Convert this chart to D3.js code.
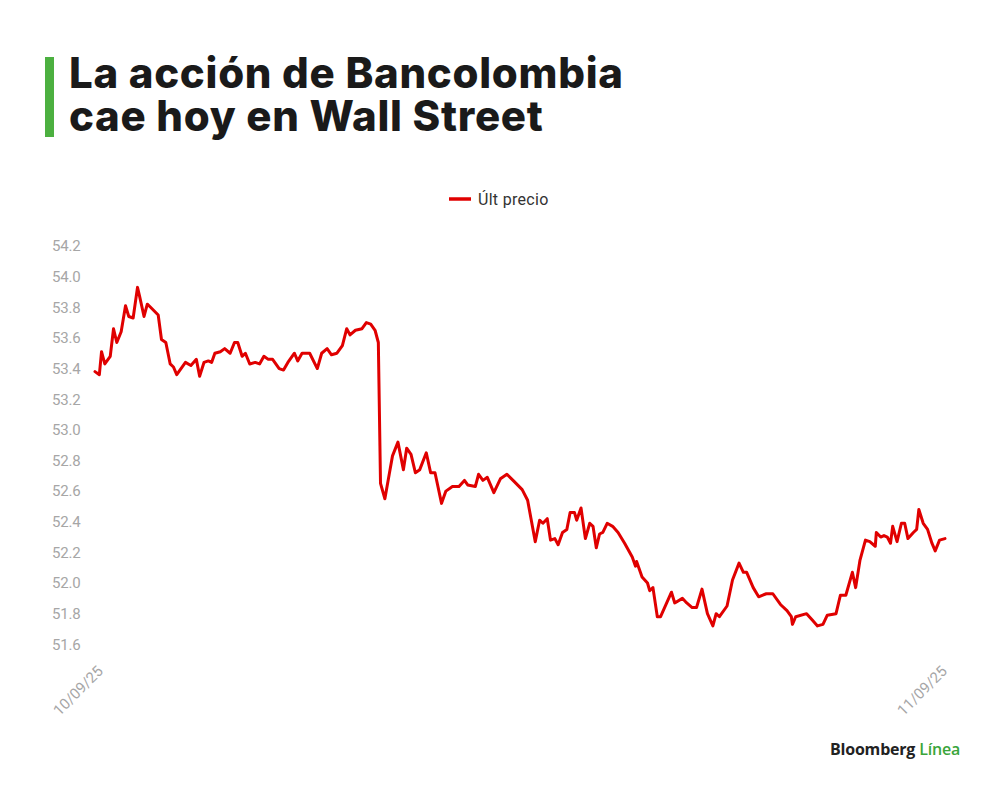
<!DOCTYPE html>
<html>
<head>
<meta charset="utf-8">
<script src="https://cdn.jsdelivr.net/npm/d3@7"></script>
<style>
  html, body { margin: 0; padding: 0; background: #fff; }
  #wrap { position: relative; width: 1000px; height: 790px; }
  svg { display: block; position: absolute; left: 0; top: 0; }
  #title { position: absolute; left: 69px; top: 51px; font-family: Inter, 'Liberation Sans', Arial, sans-serif;
    font-weight: 800; font-size: 42px; line-height: 43px; color: #1a1a1a; white-space: nowrap; }
  #measure { position: absolute; visibility: hidden; font-family: Inter, 'Liberation Sans', Arial, sans-serif;
    font-weight: 800; font-size: 42px; white-space: nowrap; }
</style>
</head>
<body>
<div id="wrap">
<svg id="chart" width="1000" height="790"></svg>
<div id="title"></div>
</div>
<script>
// ---- data ----
const titleLines = ["La acción de Bancolombia", "cae hoy en Wall Street"];
const seriesName = "Últ precio";
const dateLabels = ["10/09/25", "11/09/25"];
const yTicks = [51.6, 51.8, 52.0, 52.2, 52.4, 52.6, 52.8, 53.0, 53.2, 53.4, 53.6, 53.8, 54.0, 54.2];
// minutes elapsed since the start of the period shown
const minutes = [0,4,6,9,14,17,20,24,28,31,35,39,41,45,48,51,58,61,65,69,72,75,83,88,93,96,100,104,107,110,115,119,124,128,131,135,138,142,147,151,155,159,163,169,173,177,183,186,190,197,204,208,213,217,222,227,231,234,239,245,249,253,257,260,
  262,266,270,273,278,283,286,290,294,298,304,308,312,318,322,328,334,339,342,349,352,356,360,366,372,378,385,392,397,404,408,411,415,418,422,425,429,433,436,440,442,446,450,454,457,460,463,466,470,475,480,486,493,496,497,502,507,509,512,516,519,524,529,532,539,543,548,552,557,562,567,570,573,580,585,591,595,598,604,609,616,622,629,635,639,640,643,653,658,663,668,672,680,684,689,695,698,702,707,711,716,717,721,724,727,730,732,736,740,743,746,751,754,756,760,764,768,771,775,780];
const prices = [53.38,53.36,53.51,53.43,53.48,53.66,53.57,53.64,53.81,53.74,53.73,53.93,53.87,53.74,53.82,53.80,53.75,53.59,53.57,53.43,53.41,53.36,53.44,53.42,53.46,53.35,53.44,53.45,53.44,53.50,53.51,53.53,53.50,53.57,53.57,53.48,53.50,53.43,53.44,53.43,53.48,53.46,53.46,53.40,53.39,53.44,53.50,53.45,53.50,53.50,53.40,53.50,53.53,53.49,53.50,53.55,53.66,53.62,53.65,53.66,53.70,53.69,53.65,53.57,
  52.65,52.55,52.71,52.83,52.92,52.74,52.88,52.84,52.72,52.74,52.85,52.72,52.72,52.52,52.60,52.63,52.63,52.67,52.64,52.63,52.71,52.67,52.69,52.59,52.68,52.71,52.66,52.61,52.54,52.27,52.41,52.39,52.42,52.28,52.29,52.25,52.33,52.35,52.46,52.46,52.41,52.49,52.29,52.39,52.37,52.23,52.32,52.33,52.39,52.37,52.33,52.26,52.17,52.11,52.14,52.04,52.00,51.95,51.97,51.78,51.78,51.86,51.94,51.87,51.90,51.87,51.84,51.84,51.96,51.80,51.72,51.80,51.78,51.85,52.02,52.13,52.07,52.07,51.97,51.91,51.93,51.93,51.86,51.82,51.78,51.73,51.78,51.80,51.76,51.72,51.73,51.79,51.80,51.92,51.92,52.07,51.97,52.15,52.28,52.27,52.24,52.33,52.30,52.31,52.30,52.26,52.37,52.27,52.39,52.39,52.29,52.33,52.35,52.48,52.39,52.35,52.26,52.21,52.28,52.29];
const footer = ["Bloomberg", "Línea"];

// ---- drawing ----
const svg = d3.select("#chart");
const RED = "#e00000", GREEN = "#4cb040", LABEL = "#a6a6a6";

// title: one text block, two lines, shared letter-spacing fitted to the reference widths
svg.append("rect").attr("x", 45).attr("y", 57).attr("width", 9).attr("height", 80).attr("fill", GREEN);
const titleWidths = [557, 471];
const meas = d3.select("body").append("span").attr("id", "measure");
let lsSum = 0;
titleLines.forEach((t, i) => {
  meas.text(t);
  const w = meas.node().getBoundingClientRect().width;
  lsSum += (titleWidths[i] - w) / (t.length - 1);
});
meas.remove();
const titleDiv = d3.select("#title").style("letter-spacing", (lsSum / titleLines.length).toFixed(2) + "px");
titleLines.forEach((t, i) => {
  if (i) titleDiv.append("br");
  titleDiv.node().appendChild(document.createTextNode(t));
});

// legend
const legend = svg.append("g");
legend.append("line").attr("x1", 449).attr("x2", 471).attr("y1", 199).attr("y2", 199)
  .attr("stroke", RED).attr("stroke-width", 3.5);
legend.append("text").attr("x", 478).attr("y", 204.5).text(seriesName)
  .attr("font-family", "Roboto, 'Liberation Sans', sans-serif").attr("font-size", 16)
  .attr("fill", "#333").attr("letter-spacing", 0.3);

// scales
const x = d3.scaleLinear().domain([0, 780]).range([95, 945]);
const y = d3.scaleLinear().domain([51.6, 54.2]).range([644.3, 246]);

// y axis
const yAxis = svg.append("g").attr("transform", "translate(52,0)")
  .call(d3.axisLeft(y).tickValues(yTicks).tickFormat(d3.format(".1f")).tickSize(0));
yAxis.select(".domain").remove();
yAxis.selectAll("text").attr("text-anchor", "start").attr("x", 0)
  .attr("font-family", "Roboto, 'Liberation Sans', sans-serif").attr("font-size", 15)
  .attr("fill", LABEL).attr("letter-spacing", -0.2);

// x date labels
const xLab = svg.append("g").attr("font-family", "Roboto, 'Liberation Sans', sans-serif")
  .attr("font-size", 15).attr("fill", LABEL);
[[0, dateLabels[0], 9], [780, dateLabels[1], 3]].forEach(([m, t, dx]) => {
  const px = x(m) + dx, py = 672;
  xLab.append("text").attr("text-anchor", "end")
    .attr("transform", `translate(${px},${py}) rotate(-45)`).text(t);
});

// line
const pts = minutes.map((m, i) => [m, prices[i]]);
svg.append("path").datum(pts)
  .attr("d", d3.line().x(d => x(d[0])).y(d => y(d[1])))
  .attr("fill", "none").attr("stroke", RED).attr("stroke-width", 3)
  .attr("stroke-linejoin", "round").attr("stroke-linecap", "round");

// footer
const f = svg.append("text").attr("x", 960).attr("y", 755).attr("text-anchor", "end")
  .attr("font-family", "'Open Sans', 'Noto Sans', sans-serif").attr("font-weight", 700)
  .attr("font-size", 16).attr("letter-spacing", -0.2);
f.append("tspan").attr("fill", "#222").text(footer[0] + " ");
f.append("tspan").attr("fill", "#3aa53a").attr("font-weight", 600).text(footer[1]);
</script>
</body>
</html>
